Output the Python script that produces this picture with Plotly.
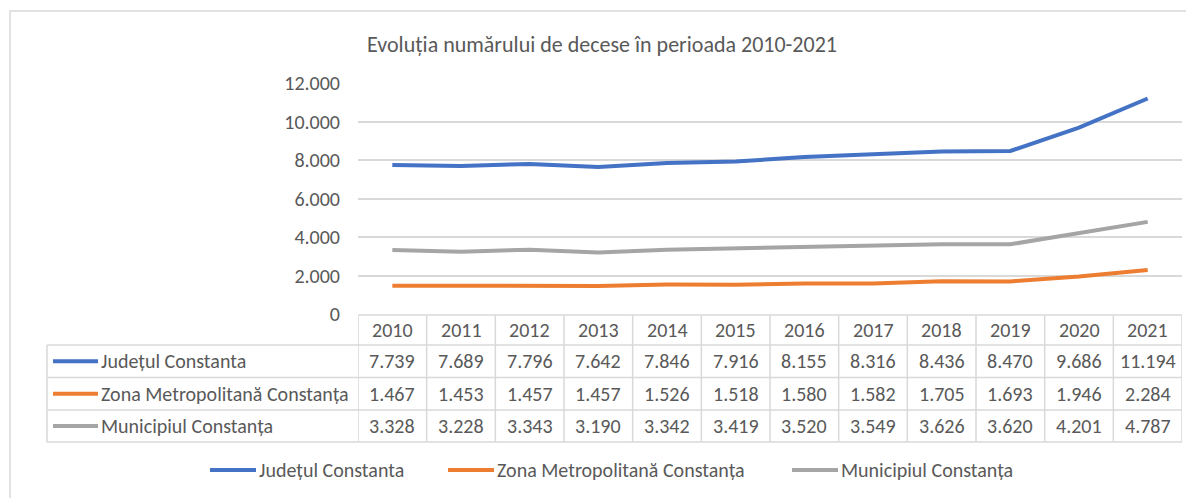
import plotly.graph_objects as go

# ---------------- data ----------------
years = ["2010", "2011", "2012", "2013", "2014", "2015", "2016", "2017", "2018", "2019", "2020", "2021"]
judet = [7739, 7689, 7796, 7642, 7846, 7916, 8155, 8316, 8436, 8470, 9686, 11194]
zona_metro = [1467, 1453, 1457, 1457, 1526, 1518, 1580, 1582, 1705, 1693, 1946, 2284]
municipiu = [3328, 3228, 3343, 3190, 3342, 3419, 3520, 3549, 3626, 3620, 4201, 4787]
series_names = ["Județul Constanta", "Zona Metropolitană Constanța", "Municipiul Constanța"]
series_values = [judet, zona_metro, municipiu]
series_colors = ["#4472C4", "#ED7D31", "#A5A5A5"]
y_ticks = [0, 2000, 4000, 6000, 8000, 10000, 12000]
title_text = "Evoluția numărului de decese în perioada 2010-2021"

# ---------------- layout geometry (screen pixels) ----------------
W, H = 1194, 498
OFF = 8                                # page body margin
PL, PR, PT, PB = 358, 1182, 83, 314   # plot area on screen
FONT = "Carlito, Calibri, Lato, sans-serif"
TXT = "#595959"
GRID = "#D9D9D9"
FS = 20


def px_x(p):
    return (p - PL) / (PR - PL)


def px_y(p):
    return (PB - p) / (PB - PT)


def fmt(v):
    return f"{v:,}".replace(",", ".")


xs = list(range(len(years)))

fig = go.Figure()
for name, vals, col in zip(series_names, series_values, series_colors):
    fig.add_trace(go.Scatter(
        x=xs, y=vals, mode="lines", name=name, showlegend=False,
        line=dict(color=col, width=4),
    ))

shapes = []
annotations = []

# outer chart frame
shapes.append(dict(type="rect", xref="paper", yref="paper",
                   x0=px_x(10), x1=px_x(1230), y0=px_y(11), y1=px_y(540),
                   line=dict(color=GRID, width=1.5), layer="below"))

# data table
row_bounds = [315, 345, 377.5, 410, 442]
row_centers = [(row_bounds[i] + row_bounds[i + 1]) / 2 for i in range(4)]
tline = dict(color=GRID, width=1.5)
shapes.append(dict(type="line", xref="paper", yref="paper",
                   x0=px_x(PL), x1=px_x(PR), y0=px_y(row_bounds[0]), y1=px_y(row_bounds[0]), line=tline))
for b in row_bounds[1:]:
    shapes.append(dict(type="line", xref="paper", yref="paper",
                       x0=px_x(47), x1=px_x(PR), y0=px_y(b), y1=px_y(b), line=tline))
shapes.append(dict(type="line", xref="paper", yref="paper",
                   x0=px_x(47), x1=px_x(47), y0=px_y(row_bounds[1]), y1=px_y(row_bounds[-1]), line=tline))
for i in range(len(years) + 1):
    shapes.append(dict(type="line", xref="x", yref="paper",
                       x0=i - 0.5, x1=i - 0.5, y0=px_y(row_bounds[0]), y1=px_y(row_bounds[-1]), line=tline))

for i, yr in enumerate(years):
    annotations.append(dict(x=i, y=px_y(row_centers[0]), xref="x", yref="paper",
                            text=yr, showarrow=False, xanchor="center", yanchor="middle",
                            font=dict(family=FONT, size=FS, color=TXT)))
for r, (name, vals, col) in enumerate(zip(series_names, series_values, series_colors)):
    yc = row_centers[r + 1]
    shapes.append(dict(type="line", xref="paper", yref="paper",
                       x0=px_x(53), x1=px_x(98), y0=px_y(yc), y1=px_y(yc),
                       line=dict(color=col, width=4)))
    annotations.append(dict(x=px_x(99), y=px_y(yc), xref="paper", yref="paper",
                            text=name, showarrow=False, xanchor="left", yanchor="middle",
                            font=dict(family=FONT, size=FS, color=TXT)))
    for i, v in enumerate(vals):
        annotations.append(dict(x=i, y=px_y(yc), xref="x", yref="paper",
                                text=fmt(v), showarrow=False, xanchor="center", yanchor="middle",
                                font=dict(family=FONT, size=FS, color=TXT)))

# legend (bottom)
leg_starts = [210, 448, 792]
leg_y = 470
for name, col, x0 in zip(series_names, series_colors, leg_starts):
    shapes.append(dict(type="line", xref="paper", yref="paper",
                       x0=px_x(x0), x1=px_x(x0 + 46), y0=px_y(leg_y), y1=px_y(leg_y),
                       line=dict(color=col, width=4)))
    annotations.append(dict(x=px_x(x0 + 47), y=px_y(leg_y), xref="paper", yref="paper",
                            text=name, showarrow=False, xanchor="left", yanchor="middle",
                            font=dict(family=FONT, size=FS, color=TXT)))

fig.update_layout(
    width=W, height=H,
    margin=dict(l=PL - OFF, r=W - (PR - OFF), t=PT - OFF, b=H - (PB - OFF), autoexpand=False),
    paper_bgcolor="white", plot_bgcolor="white",
    separators=",.",
    title=dict(text=title_text, xref="container", yref="container",
               x=(602 - OFF) / W, y=1 - (44 - OFF) / H, xanchor="center", yanchor="middle",
               font=dict(family=FONT, size=22, color=TXT)),
    xaxis=dict(range=[-0.5, len(years) - 0.5], showticklabels=False, showgrid=False,
               zeroline=False, showline=False, fixedrange=True),
    yaxis=dict(range=[0, 12000], tickvals=y_ticks,
               ticktext=[fmt(v) for v in y_ticks],
               showgrid=True, gridcolor=GRID, gridwidth=1.5, zeroline=False, showline=False,
               ticks="outside", ticklen=13, tickcolor="rgba(0,0,0,0)",
               tickfont=dict(family=FONT, size=FS, color=TXT)),
    showlegend=False,
    shapes=shapes, annotations=annotations,
)

fig.write_html("out.html")
